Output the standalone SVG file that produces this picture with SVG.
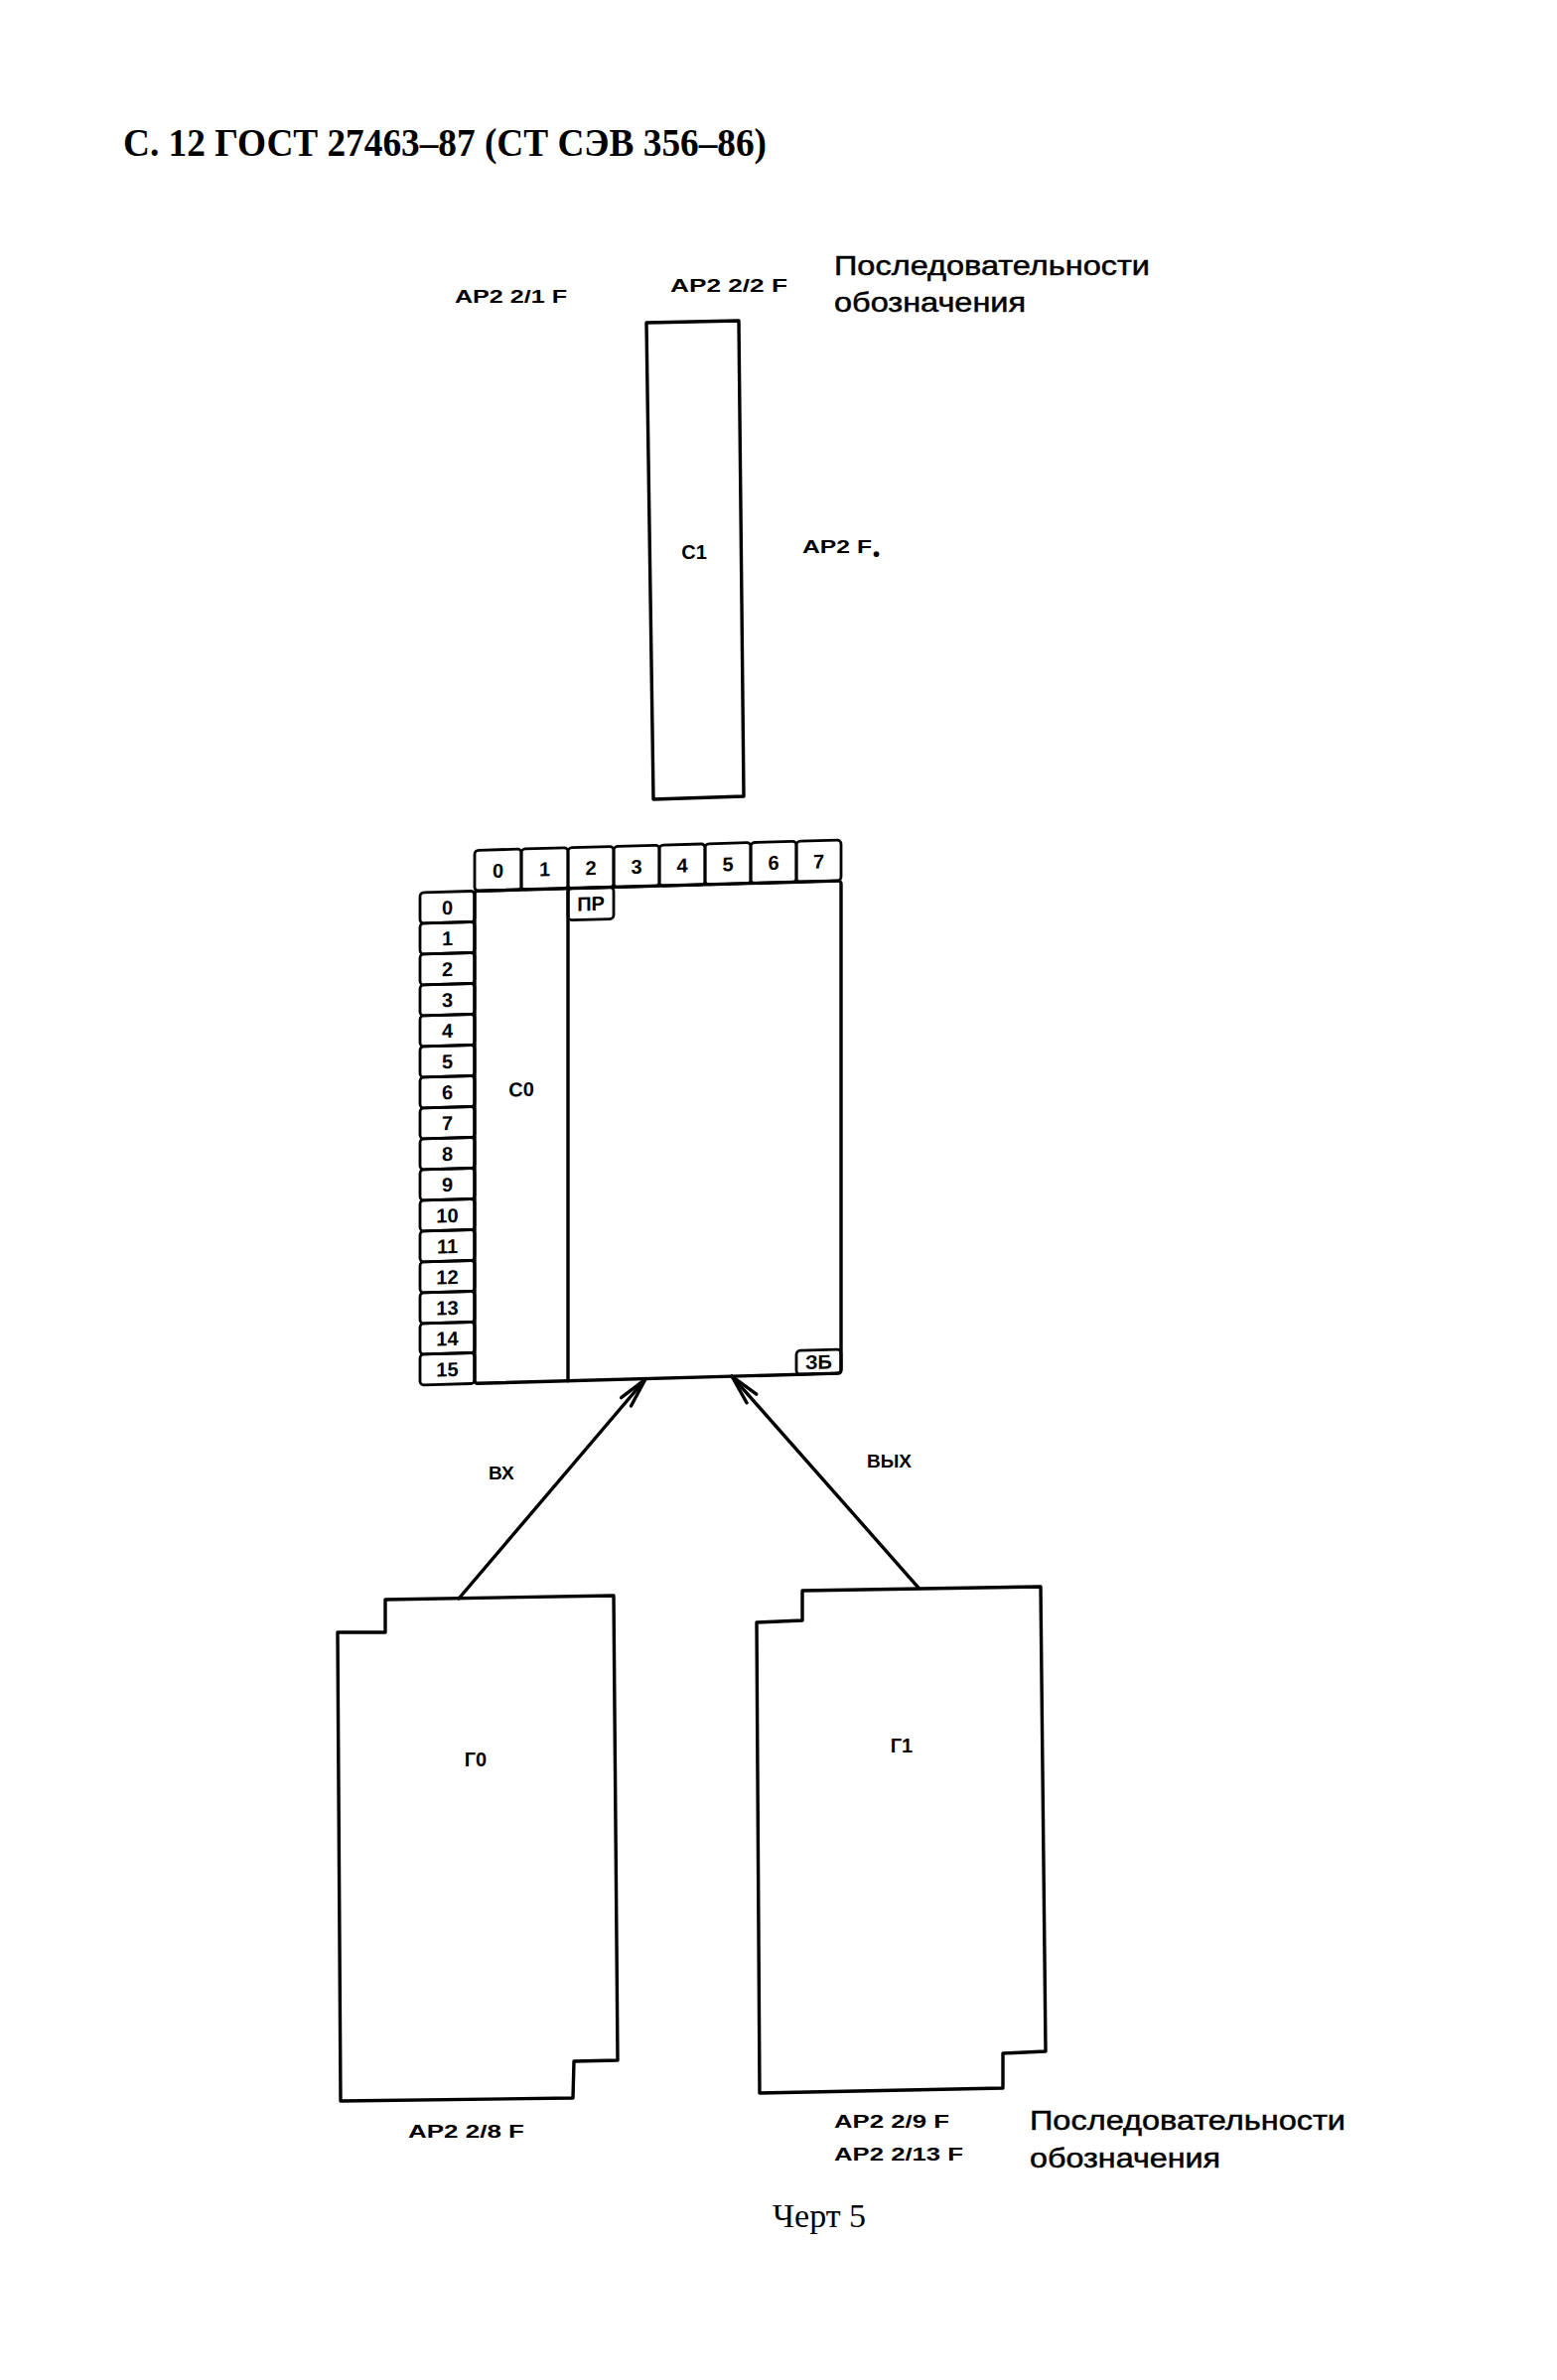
<svg xmlns="http://www.w3.org/2000/svg" width="1568" height="2397" viewBox="0 0 1568 2397">
<style>
.ln{fill:none;stroke:#000;stroke-width:3.4;stroke-linejoin:round;stroke-linecap:round}
.cell{fill:none;stroke:#000;stroke-width:2.8;stroke-linejoin:round}
.b{font-family:"Liberation Sans",Arial,sans-serif;font-weight:bold;fill:#000}
.d{font-family:"Liberation Sans",Arial,sans-serif;font-weight:bold;font-size:20px;text-anchor:middle;fill:#000}
.ap{font-family:"Liberation Sans",Arial,sans-serif;font-weight:bold;font-size:18px;fill:#000}
.cap{font-family:"Liberation Sans",Arial,sans-serif;font-size:28px;fill:#000;stroke:#000;stroke-width:0.5}
.hdr{font-family:"Liberation Serif","Times New Roman",serif;font-weight:bold;font-size:39px;fill:#000}
.ser{font-family:"Liberation Serif","Times New Roman",serif;font-size:34px;fill:#000}
</style>
<defs>
<marker id="arr" markerUnits="userSpaceOnUse" markerWidth="40" markerHeight="20" viewBox="-34 -10 36 20" refX="0" refY="0" orient="auto" overflow="visible">
<path d="M-30,-6.5 L0,0 L-30,6.5" fill="none" stroke="#000" stroke-width="3.4" stroke-linecap="round" stroke-linejoin="round"/>
</marker>
</defs>
<rect x="0" y="0" width="1568" height="2397" fill="#fff"/>

<text class="hdr" x="124" y="157" textLength="648" lengthAdjust="spacingAndGlyphs">С. 12 ГОСТ 27463–87  (СТ  СЭВ 356–86)</text>

<g id="labels-top">
<text class="ap" x="458" y="305" textLength="113" lengthAdjust="spacingAndGlyphs">АР2  2/1  F</text>
<text class="ap" x="675" y="294" textLength="118" lengthAdjust="spacingAndGlyphs">АР2  2/2  F</text>
<text class="cap" x="840" y="277" textLength="318" lengthAdjust="spacingAndGlyphs">Последовательности</text>
<text class="cap" x="840" y="314" textLength="193" lengthAdjust="spacingAndGlyphs">обозначения</text>
</g>

<g id="node-c1">
<path class="ln" d="M651,325 L744,323 L749,802 L658,805 Z"/>
<text class="d" x="699" y="563" font-size="19">С1</text>
<text class="ap" x="808" y="557" textLength="70" lengthAdjust="spacingAndGlyphs">АР2  F</text>
<text class="b" x="879" y="565" font-size="20">•</text>
</g>

<g id="node-table" transform="matrix(1 -0.028 0 1 0 17.78)">
<rect class="cell" x="478" y="852" width="47" height="41" rx="4"/>
<rect class="cell" x="525" y="852" width="47" height="41" rx="4"/>
<rect class="cell" x="572" y="852" width="46" height="41" rx="4"/>
<rect class="cell" x="618" y="852" width="46" height="41" rx="4"/>
<rect class="cell" x="664" y="852" width="46" height="41" rx="4"/>
<rect class="cell" x="710" y="852" width="46" height="41" rx="4"/>
<rect class="cell" x="756" y="852" width="46" height="41" rx="4"/>
<rect class="cell" x="802" y="852" width="45" height="41" rx="4"/>
<text class="d" x="501.5" y="880">0</text>
<text class="d" x="548.5" y="880">1</text>
<text class="d" x="595" y="880">2</text>
<text class="d" x="641" y="880">3</text>
<text class="d" x="687" y="880">4</text>
<text class="d" x="733" y="880">5</text>
<text class="d" x="779" y="880">6</text>
<text class="d" x="824.5" y="880">7</text>

<rect class="cell" x="423" y="893" width="55" height="31" rx="4"/>
<rect class="cell" x="423" y="924" width="55" height="31" rx="4"/>
<rect class="cell" x="423" y="955" width="55" height="31" rx="4"/>
<rect class="cell" x="423" y="986" width="55" height="31" rx="4"/>
<rect class="cell" x="423" y="1017" width="55" height="31" rx="4"/>
<rect class="cell" x="423" y="1048" width="55" height="31" rx="4"/>
<rect class="cell" x="423" y="1079" width="55" height="31" rx="4"/>
<rect class="cell" x="423" y="1110" width="55" height="31" rx="4"/>
<rect class="cell" x="423" y="1141" width="55" height="31" rx="4"/>
<rect class="cell" x="423" y="1172" width="55" height="31" rx="4"/>
<rect class="cell" x="423" y="1203" width="55" height="31" rx="4"/>
<rect class="cell" x="423" y="1234" width="55" height="31" rx="4"/>
<rect class="cell" x="423" y="1265" width="55" height="31" rx="4"/>
<rect class="cell" x="423" y="1296" width="55" height="31" rx="4"/>
<rect class="cell" x="423" y="1327" width="55" height="31" rx="4"/>
<rect class="cell" x="423" y="1358" width="55" height="31" rx="4"/>
<text class="d" x="450.5" y="916">0</text>
<text class="d" x="450.5" y="947">1</text>
<text class="d" x="450.5" y="978">2</text>
<text class="d" x="450.5" y="1009">3</text>
<text class="d" x="450.5" y="1040">4</text>
<text class="d" x="450.5" y="1071">5</text>
<text class="d" x="450.5" y="1102">6</text>
<text class="d" x="450.5" y="1133">7</text>
<text class="d" x="450.5" y="1164">8</text>
<text class="d" x="450.5" y="1195">9</text>
<text class="d" x="450.5" y="1226">10</text>
<text class="d" x="450.5" y="1257">11</text>
<text class="d" x="450.5" y="1288">12</text>
<text class="d" x="450.5" y="1319">13</text>
<text class="d" x="450.5" y="1350">14</text>
<text class="d" x="450.5" y="1381">15</text>

<rect class="ln" x="478" y="893" width="369" height="496" rx="3"/>
<line class="ln" x1="572" y1="893" x2="572" y2="1389"/>
<text class="d" x="525" y="1101" font-size="19">С0</text>
<rect class="cell" x="572" y="893" width="46" height="32" rx="4"/>
<text class="d" x="595" y="916" font-size="17">ПР</text>
<rect class="cell" x="802" y="1365" width="45" height="24" rx="4"/>
<text class="d" x="824.5" y="1384" font-size="18">ЗБ</text>
</g>

<g id="node-g0">
<path class="ln" d="M388,1611 L618,1607 L622,2075 L578,2076 L577,2113 L343,2116 L340,1644 L388,1644 Z"/>
<text class="d" x="479" y="1779" font-size="19">Г0</text>
</g>

<g id="node-g1">
<path class="ln" d="M808,1602 L1048,1598 L1053,2066 L1010,2068 L1010,2103 L765,2108 L762,1634 L808,1632 Z"/>
<text class="d" x="908" y="1765" font-size="19">Г1</text>
</g>

<g id="connectors">
<line class="ln" x1="462" y1="1610" x2="650" y2="1389" marker-end="url(#arr)"/>
<line class="ln" x1="925" y1="1599" x2="737" y2="1386" marker-end="url(#arr)"/>
<text class="b" x="492" y="1490" font-size="19">ВХ</text>
<text class="b" x="873" y="1478" font-size="19">ВЫХ</text>
</g>

<g id="labels-bottom">
<text class="ap" x="411" y="2153" textLength="117" lengthAdjust="spacingAndGlyphs">АР2  2/8  F</text>
<text class="ap" x="840" y="2143" textLength="116" lengthAdjust="spacingAndGlyphs">АР2  2/9  F</text>
<text class="ap" x="840" y="2176" textLength="130" lengthAdjust="spacingAndGlyphs">АР2  2/13  F</text>
<text class="cap" x="1037" y="2145" textLength="318" lengthAdjust="spacingAndGlyphs">Последовательности</text>
<text class="cap" x="1037" y="2183" textLength="192" lengthAdjust="spacingAndGlyphs">обозначения</text>
<text class="ser" x="778" y="2243">Черт  5</text>
</g>
</svg>
